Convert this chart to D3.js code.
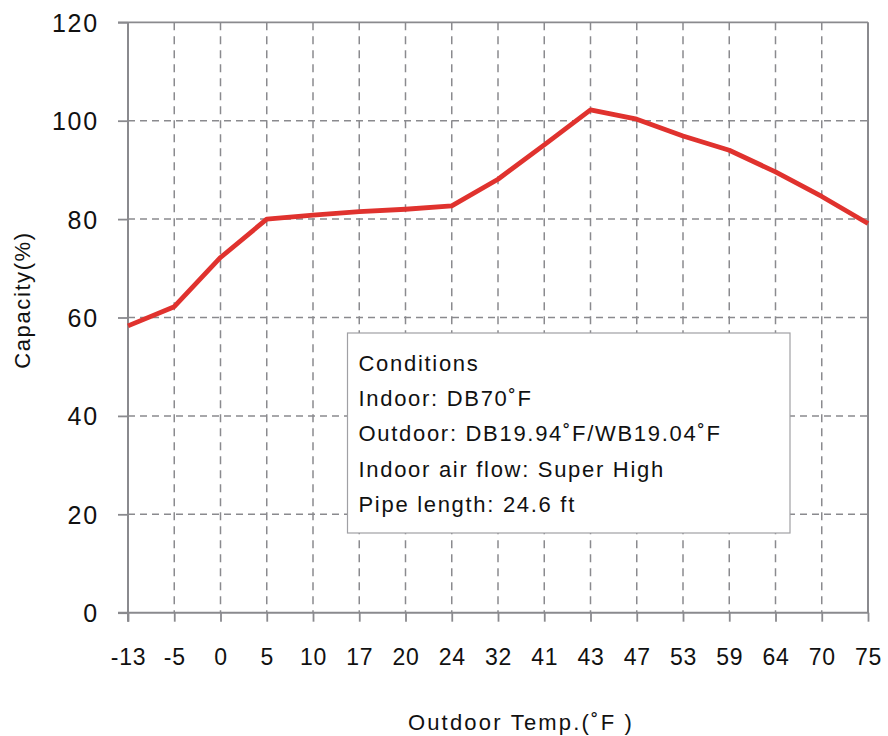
<!DOCTYPE html>
<html>
<head>
<meta charset="utf-8">
<script src="https://cdn.jsdelivr.net/npm/d3@7/dist/d3.min.js"></script>
<style>
  html, body { margin: 0; padding: 0; background: #fff; }
  svg { display: block; font-family: "Liberation Sans", Arial, Helvetica, sans-serif; }
</style>
</head>
<body>
<svg id="chart" width="888" height="736"></svg>
<script>
const categories = ["-13","-5","0","5","10","17","20","24","32","41","43","47","53","59","64","70","75"];
const capacity = [58.3, 62.2, 72.2, 80.0, 80.8, 81.5, 82.0, 82.7, 88.1, 95.1, 102.2, 100.3, 96.9, 94.0, 89.6, 84.6, 79.1];
const yTicks = [0, 20, 40, 60, 80, 100, 120];
const conditionLines = [
  "Conditions",
  "Indoor: DB70˚F",
  "Outdoor: DB19.94˚F/WB19.04˚F",
  "Indoor air flow: Super High",
  "Pipe length: 24.6 ft"
];
const xTitle = "Outdoor Temp.(˚F )";
const yTitle = "Capacity(%)";

(function () {
const svg = d3.select("#chart");
const pLeft = 128, pRight = 868, pTop = 22.3, pBottom = 612.7;

const x = d3.scalePoint().domain(categories).range([pLeft, pRight]);
const y = d3.scaleLinear().domain([0, 120]).range([pBottom, pTop]);

const gridColor = "#8a8a8e";

// horizontal dashed gridlines
svg.append("g").selectAll("line")
  .data(yTicks.filter(v => v > 0 && v < 120))
  .join("line")
  .attr("x1", pLeft).attr("x2", pRight)
  .attr("y1", d => y(d)).attr("y2", d => y(d))
  .attr("stroke", gridColor).attr("stroke-width", 1.5)
  .attr("stroke-dasharray", "7,5");

// vertical dashed gridlines
svg.append("g").selectAll("line")
  .data(categories.slice(1, -1))
  .join("line")
  .attr("x1", d => x(d)).attr("x2", d => x(d))
  .attr("y1", pTop).attr("y2", pBottom)
  .attr("stroke", gridColor).attr("stroke-width", 1.5)
  .attr("stroke-dasharray", "8,6");

// top and right border
svg.append("line").attr("x1", pLeft - 10).attr("x2", pRight).attr("y1", pTop).attr("y2", pTop)
  .attr("stroke", gridColor).attr("stroke-width", 1.8);
svg.append("line").attr("x1", pRight).attr("x2", pRight).attr("y1", pTop).attr("y2", pBottom)
  .attr("stroke", gridColor).attr("stroke-width", 2);

// Y axis
const yAxis = svg.append("g")
  .attr("transform", `translate(${pLeft},0)`)
  .call(d3.axisLeft(y).tickValues(yTicks).tickSize(10).tickPadding(0).tickFormat(d3.format("d")));
yAxis.select(".domain").attr("stroke", gridColor).attr("stroke-width", 2)
  .attr("d", `M0,${pTop}V${pBottom + 9}`);
yAxis.selectAll(".tick line").attr("stroke", gridColor).attr("stroke-width", 1.8);
yAxis.selectAll(".tick text")
  .attr("x", -29)
  .attr("dy", "0.36em")
  .attr("fill", "#111")
  .style("font-size", "25px")
  .style("letter-spacing", "1.8px");

// X axis
const xAxis = svg.append("g")
  .attr("transform", `translate(0,${pBottom})`)
  .call(d3.axisBottom(x).tickSize(9).tickPadding(0));
xAxis.select(".domain").attr("stroke", gridColor).attr("stroke-width", 2)
  .attr("d", `M${pLeft - 10},0H${pRight + 1}`);
xAxis.selectAll(".tick line").attr("stroke", gridColor).attr("stroke-width", 1.8);
xAxis.selectAll(".tick text")
  .attr("y", 52)
  .attr("dy", 0)
  .attr("fill", "#111")
  .style("font-size", "23px")
  .style("letter-spacing", "0.8px");

// data line
svg.append("path")
  .datum(capacity)
  .attr("fill", "none")
  .attr("stroke", "#e0322e")
  .attr("stroke-width", 4.8)
  .attr("stroke-linejoin", "round")
  .attr("d", d3.line().x((d, i) => x(categories[i])).y(d => y(d)));

// conditions box
const box = svg.append("g");
box.append("rect")
  .attr("x", 347.5).attr("y", 333).attr("width", 442.5).attr("height", 200)
  .attr("fill", "#fff").attr("stroke", "#a0a0a4").attr("stroke-width", 1.2);
box.selectAll("text")
  .data(conditionLines)
  .join("text")
  .attr("x", 358.5)
  .attr("y", (d, i) => 370.5 + i * 35.4)
  .attr("fill", "#111")
  .style("font-size", "22px")
  .style("letter-spacing", "1.7px")
  .text(d => d);

// axis titles
svg.append("text")
  .attr("x", 521).attr("y", 730)
  .attr("text-anchor", "middle")
  .attr("fill", "#111")
  .style("font-size", "22px")
  .style("letter-spacing", "2.2px")
  .text(xTitle);

svg.append("text")
  .attr("transform", "translate(30,300) rotate(-90)")
  .attr("text-anchor", "middle")
  .attr("fill", "#111")
  .style("font-size", "22px")
  .style("letter-spacing", "1.6px")
  .text(yTitle);
})();
</script>
</body>
</html>
